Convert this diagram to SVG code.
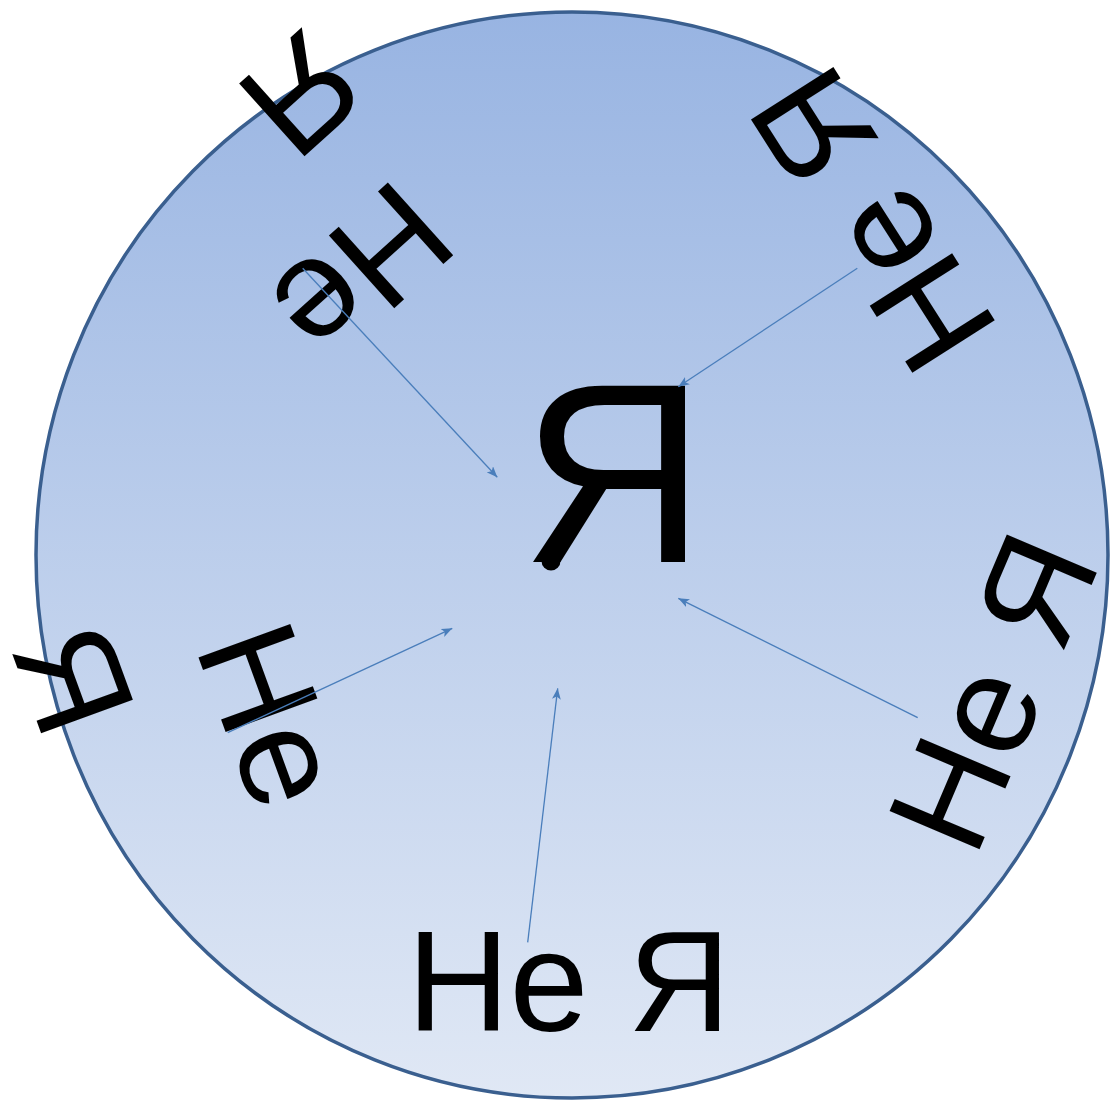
<svg xmlns="http://www.w3.org/2000/svg" width="1111" height="1101" viewBox="0 0 1111 1101">
  <defs>
    <linearGradient id="bg" x1="0" y1="0" x2="0" y2="1">
      <stop offset="0" stop-color="#98B4E2"/>
      <stop offset="1" stop-color="#E0E8F5"/>
    </linearGradient>
    <marker id="ah" viewBox="0 0 10 8" refX="10" refY="4" markerWidth="11" markerHeight="9" markerUnits="userSpaceOnUse" orient="auto">
      <path d="M0,0 L10,4 L0,8 L2.5,4 Z" fill="#4A7EBB"/>
    </marker>
    <style>
      .t { font-family: "Liberation Sans", Arial, sans-serif; fill: #000; }
      .s { font-size: 142px; }
      .c { stroke: #4A7EBB; stroke-width: 1.3; fill: none; marker-end: url(#ah); }
    </style>
  </defs>

  <g id="circle">
    <ellipse cx="572" cy="555" rx="536" ry="543" fill="url(#bg)" stroke="#3A5F8F" stroke-width="3.5"/>
  </g>

  <g id="center-ya">
    <text class="t" x="521" y="562" font-size="256">Я</text>
    <circle cx="551" cy="561" r="9.5" fill="#000"/>
  </g>

  <g id="ne-ya-bottom">
    <text class="t s" x="407" y="1031">Не Я</text>
  </g>

  <g id="ne-ya-top-left">
    <text class="t s" transform="translate(396.5,174.7) rotate(138)"><tspan x="0" y="0">Не</tspan><tspan x="-35" y="173">Я</tspan></text>
  </g>

  <g id="ne-ya-top-right">
    <text class="t s" transform="translate(1001,330) rotate(237.5)">Не Я</text>
  </g>

  <g id="ne-ya-right">
    <text class="t s" transform="translate(975,859.9) rotate(-67)">Не Я</text>
  </g>

  <g id="ne-ya-left">
    <text class="t s" transform="translate(194.6,646.5) rotate(70)"><tspan x="0" y="0">Не</tspan><tspan x="-62" y="174">Я</tspan></text>
  </g>

  <g id="connectors">
    <line class="c" x1="302.7" y1="268.3" x2="497.3" y2="477.3"/>
    <line class="c" x1="857.3" y1="268.3" x2="678.3" y2="386.7"/>
    <line class="c" x1="227.7" y1="732.7" x2="452.3" y2="628.3"/>
    <line class="c" x1="917.7" y1="717.7" x2="678.3" y2="598.3"/>
    <line class="c" x1="527.7" y1="942.3" x2="557.7" y2="688.3"/>
  </g>
</svg>
